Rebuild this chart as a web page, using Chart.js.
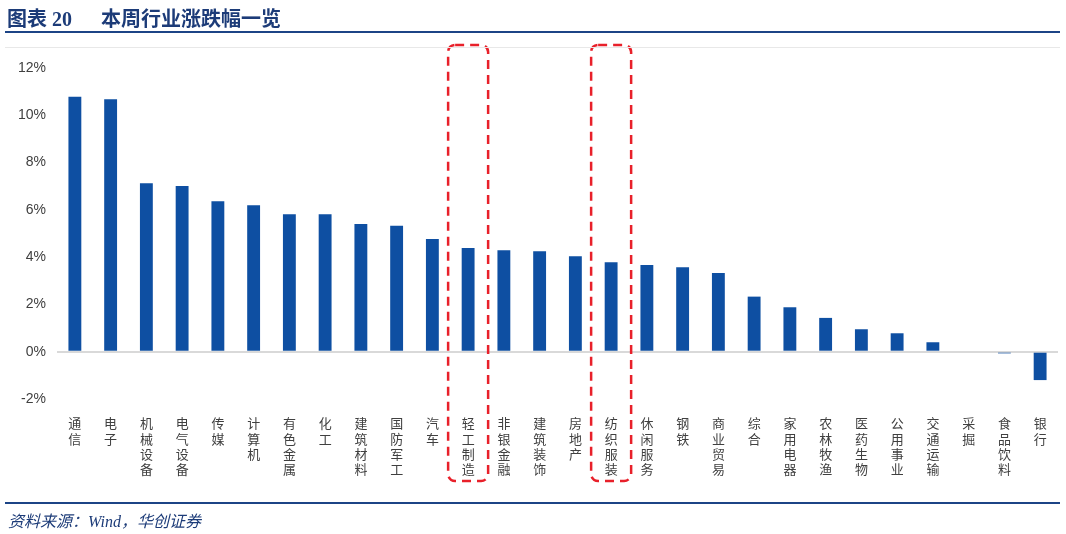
<!DOCTYPE html>
<html>
<head>
<meta charset="utf-8">
<script src="https://cdn.jsdelivr.net/npm/chart.js@4/dist/chart.umd.min.js"></script>
<style>
  html, body { margin: 0; padding: 0; background: #fff; }
  #wrap { position: relative; width: 1066px; height: 534px; overflow: hidden; }
  #chart { position: absolute; left: 0; top: 0; }
  .title {
    position: absolute; left: 7px; top: 3px;
    font: bold 20px "Liberation Serif", "Noto Sans CJK SC", serif;
    color: #1c3b78; white-space: pre;
  }
  .title span { margin-left: 29px; }
  .rule { position: absolute; left: 5px; right: 6px; height: 2px; background: #1c4486; }
  .thin { position: absolute; left: 5px; right: 6px; top: 47px; height: 1px; background: #e8e8e8; }
  .source {
    position: absolute; left: 8px; top: 508px;
    font: italic 16px "Liberation Serif", "Noto Sans CJK SC", serif;
    color: #1c3b78;
  }
</style>
</head>
<body>
<div id="wrap">
  <canvas id="chart" width="1066" height="534"></canvas>
  <div class="title">图表 20<span>本周行业涨跌幅一览</span></div>
  <div class="rule" style="top:31px"></div>
  <div class="thin"></div>
  <div class="rule" style="top:502px"></div>
  <div class="source">资料来源：Wind，华创证券</div>
</div>
<script>
// 本周行业涨跌幅 (%)
const categories = ['通信', '电子', '机械设备', '电气设备', '传媒', '计算机', '有色金属', '化工',
    '建筑材料', '国防军工', '汽车', '轻工制造', '非银金融', '建筑装饰', '房地产', '纺织服装',
    '休闲服务', '钢铁', '商业贸易', '综合', '家用电器', '农林牧渔', '医药生物', '公用事业',
    '交通运输', '采掘', '食品饮料', '银行'];
const changes = [10.78, 10.68, 7.13, 7.01, 6.36, 6.20, 5.81, 5.81,
    5.40, 5.33, 4.77, 4.39, 4.29, 4.25, 4.04, 3.78,
    3.67, 3.57, 3.33, 2.33, 1.88, 1.43, 0.95, 0.78,
    0.40, 0, -0.07, -1.20];
const yMin = -2;
const yMax = 12;
const yStep = 2;
const highlighted = ['轻工制造', '纺织服装'];

// red dashed boxes around the highlighted columns
const highlightBoxes = {
    id: 'highlightBoxes',
    afterDraw(chart) {
        const ctx = chart.ctx;
        const x = chart.scales.x;
        ctx.save();
        ctx.strokeStyle = '#e8202a';
        ctx.lineWidth = 2.5;
        ctx.setLineDash([9, 6]);
        highlighted.forEach(name => {
            const cx = x.getPixelForValue(categories.indexOf(name));
            ctx.beginPath();
            ctx.roundRect(cx - 20, 45, 40, 436, 7);
            ctx.stroke();
        });
        ctx.restore();
    }
};

const labelFont = { family: '"Noto Sans CJK SC", sans-serif', size: 13, lineHeight: 1.16 };

new Chart(document.getElementById('chart'), {
    type: 'bar',
    data: {
        labels: categories.map(c => c.split('')),
        datasets: [{
            data: changes,
            backgroundColor: '#0e4fa2',
            categoryPercentage: 1,
            barPercentage: 0.36
        }]
    },
    options: {
        responsive: false,
        animation: false,
        devicePixelRatio: 1,
        layout: { padding: { left: 0, top: 68, right: 8, bottom: 0 } },
        plugins: { legend: { display: false }, tooltip: { enabled: false } },
        scales: {
            x: {
                grid: { display: false },
                border: { display: false },
                ticks: {
                    color: '#404040',
                    font: labelFont,
                    padding: 9,
                    maxRotation: 0,
                    autoSkip: false
                },
                afterFit: s => { s.height = 135; }
            },
            y: {
                min: yMin,
                max: yMax,
                border: { display: false },
                grid: {
                    drawTicks: false,
                    color: c => c.tick && c.tick.value === 0 ? '#d9d9d9' : 'rgba(0,0,0,0)',
                    lineWidth: c => c.tick && c.tick.value === 0 ? 2 : 0
                },
                ticks: {
                    stepSize: yStep,
                    padding: 11,
                    color: '#404040',
                    font: { family: '"Liberation Sans", Arial, sans-serif', size: 14 },
                    callback: v => v + '%'
                },
                afterFit: s => { s.width = 57; }
            }
        }
    },
    plugins: [highlightBoxes]
});
</script>
</body>
</html>
